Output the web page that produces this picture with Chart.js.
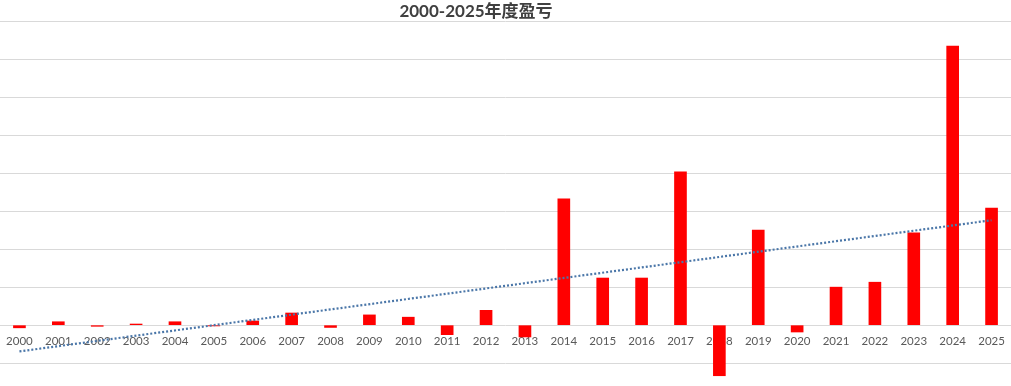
<!DOCTYPE html>
<html lang="zh">
  <head>
    <meta charset="UTF-8" />
    <script src="https://cdn.jsdelivr.net/npm/chart.js"></script>
    <title>2000-2025年度盈亏</title>
    <style>
      html,
      body {
        margin: 0;
        padding: 0;
        background: #fff;
      }
      .wrap {
        position: relative;
        width: 1011px;
        height: 386px;
      }
      .title {
        position: absolute;
        left: 0;
        top: 0;
        width: 952px;
        text-align: center;
        font: bold 17px Lato, "Noto Sans CJK SC", sans-serif;
        line-height: 21px;
        color: #404040;
      }
    </style>
  </head>
  <body>
    <div class="wrap">
      <div class="title">2000-2025年度盈亏</div>
      <canvas id="myChart" width="1011" height="386"></canvas>
    </div>
    <script>
      // years along the x axis
      const years = [
        "2000", "2001", "2002", "2003", "2004", "2005", "2006", "2007", "2008",
        "2009", "2010", "2011", "2012", "2013", "2014", "2015", "2016", "2017",
        "2018", "2019", "2020", "2021", "2022", "2023", "2024", "2025",
      ];
      // yearly profit / loss (one gridline = 1)
      const profit = [
        -0.07, 0.09, -0.03, 0.03, 0.09, -0.02, 0.11, 0.32, -0.06, 0.27, 0.21,
        -0.25, 0.39, -0.31, 3.32, 1.24, 1.24, 4.03, -1.33, 2.5, -0.18, 1.0,
        1.13, 2.43, 7.34, 3.08,
      ];
      // linear trendline, value at first and last year
      const trendStart = -0.69;
      const trendEnd = 2.76;
      const trend = years.map((y, i) =>
        i === 0 ? trendStart : i === years.length - 1 ? trendEnd : null
      );

      const ctx = document.getElementById("myChart").getContext("2d");
      const myChart = new Chart(ctx, {
        data: {
          labels: years,
          datasets: [
            {
              type: "line",
              label: "趋势",
              data: trend,
              spanGaps: true,
              borderColor: "#4a76a8",
              borderWidth: 2.2,
              borderDash: [2, 2],
              pointRadius: 0,
              fill: false,
              order: 0,
            },
            {
              type: "bar",
              label: "盈亏",
              data: profit,
              backgroundColor: "#ff0000",
              barThickness: 12,
              order: 1,
            },
          ],
        },
        options: {
          responsive: false,
          animation: false,
          layout: { padding: { top: 21, left: 0, right: 0, bottom: 0 } },
          plugins: {
            legend: { display: false },
            tooltip: { enabled: false },
          },
          scales: {
            x: {
              position: { y: 0 },
              offset: true,
              grid: { display: false, drawTicks: true, tickLength: 9 },
              border: { display: false },
              ticks: {
                color: "#595959",
                font: { family: "Lato", size: 11.5 },
                padding: 0,
                maxRotation: 0,
                autoSkip: false,
              },
            },
            y: {
              min: -1.6,
              max: 8,
              grid: { color: "#d9d9d9", drawTicks: false },
              border: { display: false },
              ticks: { display: false, stepSize: 1, includeBounds: false },
            },
          },
        },
      });
    </script>
  </body>
</html>
